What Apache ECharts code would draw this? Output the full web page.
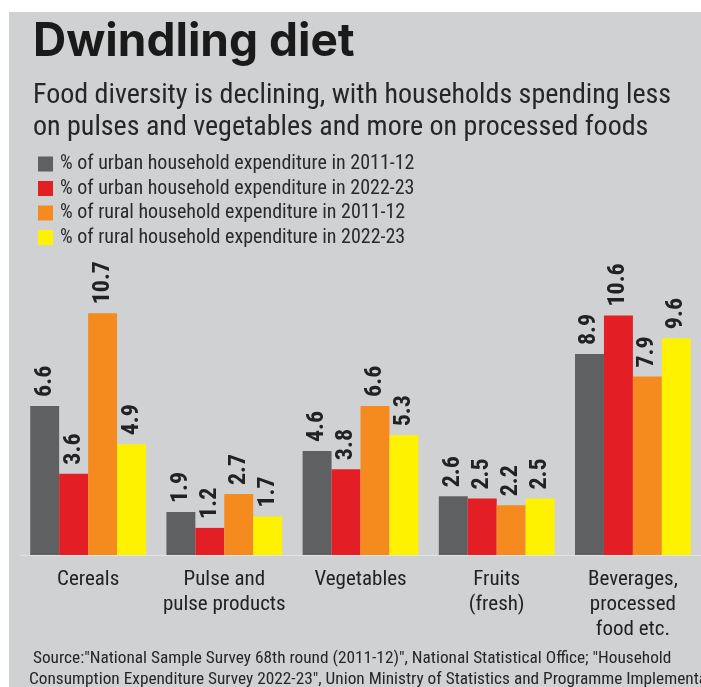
<!DOCTYPE html>
<html><head><meta charset="utf-8">
<script src="https://cdn.jsdelivr.net/npm/echarts@6/dist/echarts.min.js"></script>
<style>html,body{margin:0;padding:0;background:#fff}#c{width:701px;height:687px}</style>
</head><body><div id="c"></div>
<script>
const categories = ['Cereals', 'Pulse and\npulse products', 'Vegetables', 'Fruits\n(fresh)', 'Beverages,\nprocessed\nfood etc.'];
const seriesNames = [
  '% of urban household expenditure in 2011-12',
  '% of urban household expenditure in 2022-23',
  '% of rural household expenditure in 2011-12',
  '% of rural household expenditure in 2022-23'
];
const urban2011 = [6.6, 1.9, 4.6, 2.6, 8.9];
const urban2022 = [3.6, 1.2, 3.8, 2.5, 10.6];
const rural2011 = [10.7, 2.7, 6.6, 2.2, 7.9];
const rural2022 = [4.9, 1.7, 5.3, 2.5, 9.6];
const titleText = 'Dwindling diet';
const subtitleLines = [
  'Food diversity is declining, with households spending less',
  'on pulses and vegetables and more on processed foods'
];
const sourceLines = [
  ' Source:"National Sample Survey 68th round (2011-12)", National Statistical Office; "Household',
  'Consumption Expenditure Survey 2022-23", Union Ministry of Statistics and Programme Implementation'
];

const colors = ['#5f6062', '#e31e24', '#f58b1f', '#fff200'];
const NARROW = '"Liberation Sans Narrow", "Roboto Condensed", "DejaVu Sans Condensed", sans-serif';
const allData = [urban2011, urban2022, rural2011, rural2022];

const chart = echarts.init(document.getElementById('c'), null, {renderer: 'canvas'});
chart.setOption({
  backgroundColor: '#ffffff',
  animation: false,
  graphic: [
    {type: 'rect', left: 9, top: 12, z: -10, shape: {width: 692, height: 675}, style: {fill: '#d0d1d3'}},
    {type: 'text', left: 33, top: 19, style: {text: titleText, font: 'bold 46px Inter, sans-serif', fill: '#1a1a1a'}},
    {type: 'text', left: 33, top: 80, style: {text: subtitleLines.join('\n'), font: '28px ' + NARROW, lineHeight: 32, fill: '#262626'}},
    {type: 'text', left: 29, top: 648, style: {text: sourceLines.join('\n'), font: '17.3px ' + NARROW, lineHeight: 21, fill: '#262626'}}
  ],
  legend: {
    orient: 'vertical', left: 33, top: 149,
    itemWidth: 15, itemHeight: 15, itemGap: 4.5,
    icon: 'rect',
    textStyle: {fontFamily: NARROW, fontSize: 20, lineHeight: 20, color: '#2a2a2a', padding: [0, 0, 0, 2]},
    data: seriesNames
  },
  grid: {left: 20, right: 0, top: 284, bottom: 132, containLabel: false},
  xAxis: {
    type: 'category', data: categories,
    axisLine: {lineStyle: {color: '#e2e3e5', width: 1}},
    axisTick: {show: false},
    axisLabel: {fontFamily: NARROW, fontSize: 21, color: '#222', lineHeight: 25, margin: 12, interval: 0}
  },
  yAxis: {type: 'value', min: 0, max: 12, show: false, splitLine: {show: false}},
  series: allData.map((d, i) => ({
    name: seriesNames[i], type: 'bar', data: d,
    barGap: '0%', barCategoryGap: '15%',
    itemStyle: {color: colors[i]},
    label: {
      show: true, position: 'top', rotate: 90, align: 'left', verticalAlign: 'middle', distance: 9,
      fontFamily: NARROW, fontWeight: 'bold', fontSize: 24, color: '#222',
      formatter: p => p.value.toFixed(1)
    }
  }))
});
</script></body></html>
